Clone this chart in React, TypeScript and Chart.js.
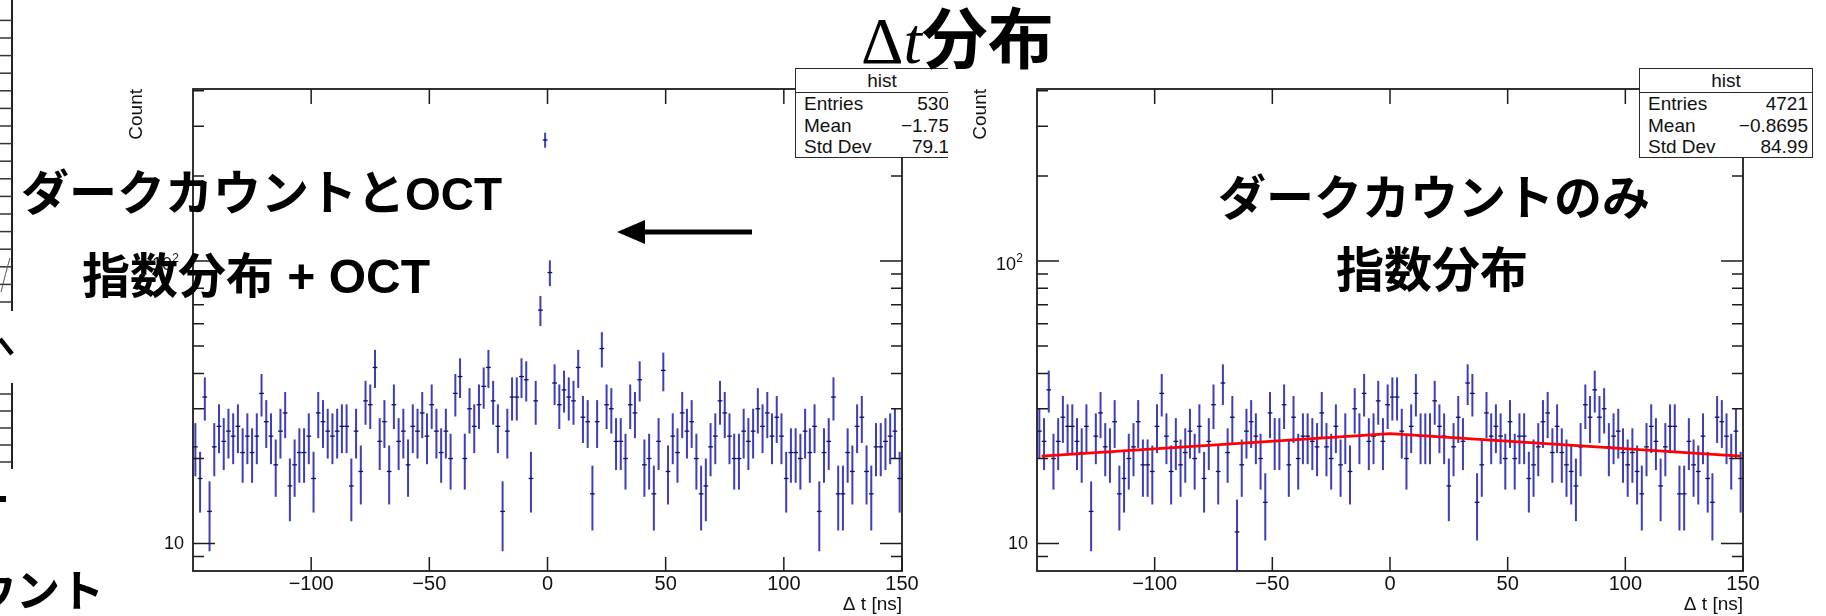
import React, { useEffect, useRef } from "react";
import { Chart, registerables } from "chart.js";

Chart.register(...registerables);

// ---------- data ----------
const binCenters = [
  -149, -147, -145, -143, -141, -139, -137, -135, -133, -131,
  -129, -127, -125, -123, -121, -119, -117, -115, -113, -111,
  -109, -107, -105, -103, -101, -99, -97, -95, -93, -91,
  -89, -87, -85, -83, -81, -79, -77, -75, -73, -71,
  -69, -67, -65, -63, -61, -59, -57, -55, -53, -51,
  -49, -47, -45, -43, -41, -39, -37, -35, -33, -31,
  -29, -27, -25, -23, -21, -19, -17, -15, -13, -11,
  -9, -7, -5, -3, -1, 1, 3, 5, 7, 9,
  11, 13, 15, 17, 19, 21, 23, 25, 27, 29,
  31, 33, 35, 37, 39, 41, 43, 45, 47, 49,
  51, 53, 55, 57, 59, 61, 63, 65, 67, 69,
  71, 73, 75, 77, 79, 81, 83, 85, 87, 89,
  91, 93, 95, 97, 99, 101, 103, 105, 107, 109,
  111, 113, 115, 117, 119, 121, 123, 125, 127, 129,
  131, 133, 135, 137, 139, 141, 143, 145, 147, 149,
];

const leftCounts = [
  22, 17, 33, 13, 22, 26, 23, 25, 24, 26,
  21, 24, 21, 24, 34, 27, 24, 19, 25, 29,
  16, 19, 21, 21, 24, 17, 29, 27, 25, 24,
  25, 26, 26, 16, 25, 18, 32, 31, 42, 23,
  27, 18, 31, 23, 25, 19, 26, 25, 29, 24,
  31, 25, 21, 25, 20, 34, 39, 20, 30, 26,
  31, 36, 42, 32, 26, 13, 25, 33, 33, 39,
  38, 17, 32, 67, 268, 91, 37, 31, 35, 33,
  32, 42, 28, 27, 15, 27, 49, 31, 30, 23,
  23, 20, 31, 29, 38, 19, 20, 15, 23, 41,
  18, 24, 21, 29, 25, 27, 20, 15, 16, 22,
  24, 32, 29, 24, 20, 20, 25, 23, 25, 30,
  26, 29, 24, 28, 24, 17, 21, 21, 20, 25,
  21, 26, 13, 21, 23, 33, 15, 15, 21, 18,
  26, 28, 18, 15, 22, 22, 23, 24, 25, 17,
];

const rightCounts = [
  25, 23, 35, 20, 23, 28, 26, 26, 23, 21,
  26, 13, 24, 29, 22, 21, 27, 15, 17, 20,
  22, 27, 19, 19, 18, 26, 34, 24, 18, 23,
  19, 21, 25, 20, 26, 17, 23, 31, 18, 37,
  21, 28, 11, 19, 25, 27, 24, 20, 14, 29,
  23, 23, 31, 19, 28, 20, 24, 24, 23, 22,
  29, 22, 20, 26, 19, 24, 18, 30, 24, 34,
  23, 24, 32, 23, 31, 33, 33, 25, 20, 26,
  34, 24, 24, 24, 32, 26, 24, 16, 22, 28,
  23, 37, 34, 14, 19, 29, 24, 26, 24, 20,
  27, 20, 24, 24, 17, 19, 22, 27, 29, 21,
  26, 21, 19, 18, 16, 22, 31, 28, 35, 28,
  30, 22, 24, 25, 21, 19, 21, 18, 15, 22,
  26, 23, 16, 22, 26, 26, 15, 15, 23, 19,
  18, 24, 17, 14, 28, 27, 24, 20, 25, 17,
];

// exponential fit drawn in the right panel (straight segments on a log axis)
const fitX = [-148, 0, 149];
const fitY = [20.4, 24.5, 20.4];

const xTickValues = [-100, -50, 0, 50, 100, 150];
const xTickLabels = ["\u2212100", "\u221250", "0", "50", "100", "150"];
const yMajorTicks = [10, 100];
const yMajorBase = ["10", "10"];
const yMajorExp = ["", "2"];
const yMinorTicks = [9, 20, 30, 40, 50, 60, 70, 80, 90, 200, 300, 400];

const statLabels = ["Entries", "Mean", "Std Dev"];
const leftStats = ["530", "\u22121.75", "79.1"];
const rightStats = ["4721", "\u22120.8695", "84.99"];

const AXIS_FONT = '"Liberation Sans", Arial, Helvetica, sans-serif';
const CJK_FONT = '"Noto Sans CJK JP", "Noto Sans", sans-serif';

// ---------- plugin: ROOT-like frame, ticks and error bars ----------
const rootAxesPlugin = {
  id: "rootAxes",
  beforeDatasetsDraw(chart: any) {
    const { ctx, chartArea: ca, scales } = chart;
    const xs = scales.x;
    const ys = scales.y;
    const pts = chart.data.datasets[0].data as { x: number; y: number }[];
    ctx.save();
    ctx.beginPath();
    ctx.rect(ca.left, ca.top, ca.right - ca.left, ca.bottom - ca.top);
    ctx.clip();
    for (const p of pts) {
      const err = Math.sqrt(p.y);
      const px = xs.getPixelForValue(p.x);
      const py = ys.getPixelForValue(p.y);
      const top = ys.getPixelForValue(p.y + err);
      const bot = p.y - err > 0 ? ys.getPixelForValue(p.y - err) : ca.bottom + 5;
      ctx.strokeStyle = "rgb(62,62,188)";
      ctx.lineWidth = 2;
      ctx.beginPath();
      ctx.moveTo(px, top);
      ctx.lineTo(px, bot);
      ctx.stroke();
      ctx.strokeStyle = "#12124e";
      ctx.lineWidth = 1.3;
      ctx.beginPath();
      ctx.moveTo(xs.getPixelForValue(p.x - 1), py);
      ctx.lineTo(xs.getPixelForValue(p.x + 1), py);
      ctx.stroke();
    }
    ctx.restore();
  },
  afterDraw(chart: any) {
    const { ctx, chartArea: ca, scales } = chart;
    const xs = scales.x;
    const ys = scales.y;
    ctx.save();
    ctx.strokeStyle = "#1c1c1c";
    ctx.lineWidth = 1.8;
    ctx.strokeRect(ca.left, ca.top, ca.right - ca.left, ca.bottom - ca.top);
    ctx.lineWidth = 1.5;
    ctx.beginPath();
    xTickValues.forEach((v) => {
      const px = xs.getPixelForValue(v);
      ctx.moveTo(px, ca.bottom);
      ctx.lineTo(px, ca.bottom - 14);
      ctx.moveTo(px, ca.top);
      ctx.lineTo(px, ca.top + 15);
    });
    yMajorTicks.forEach((v) => {
      const py = ys.getPixelForValue(v);
      ctx.moveTo(ca.left, py);
      ctx.lineTo(ca.left + 22, py);
      ctx.moveTo(ca.right, py);
      ctx.lineTo(ca.right - 22, py);
    });
    yMinorTicks.forEach((v) => {
      const py = ys.getPixelForValue(v);
      ctx.moveTo(ca.left, py);
      ctx.lineTo(ca.left + 11, py);
      ctx.moveTo(ca.right, py);
      ctx.lineTo(ca.right - 11, py);
    });
    ctx.stroke();

    ctx.fillStyle = "#111";
    ctx.font = `20px ${AXIS_FONT}`;
    ctx.textAlign = "center";
    ctx.textBaseline = "top";
    xTickValues.forEach((v, i) => {
      ctx.fillText(xTickLabels[i], xs.getPixelForValue(v), ca.bottom + 3);
    });

    ctx.textAlign = "right";
    ctx.textBaseline = "middle";
    yMajorTicks.forEach((v, i) => {
      const py = ys.getPixelForValue(v);
      if (yMajorExp[i]) {
        ctx.font = `12px ${AXIS_FONT}`;
        ctx.fillText(yMajorExp[i], ca.left - 14, py - 2);
        ctx.font = `18px ${AXIS_FONT}`;
        ctx.fillText(yMajorBase[i], ca.left - 21, py + 4);
      } else {
        ctx.font = `18px ${AXIS_FONT}`;
        ctx.fillText(yMajorBase[i], ca.left - 9, py);
      }
    });

    ctx.font = `19px ${AXIS_FONT}`;
    ctx.textAlign = "right";
    ctx.textBaseline = "alphabetic";
    ctx.fillText("\u0394 t [ns]", ca.right, 610);

    ctx.translate(ca.left - 56, ca.top);
    ctx.rotate(-Math.PI / 2);
    ctx.textAlign = "right";
    ctx.textBaseline = "middle";
    ctx.fillText("Count", 0, 0);
    ctx.restore();
  },
};

type HistProps = {
  counts: number[];
  withFit: boolean;
  left: number;
  width: number;
  pad: { left: number; right: number; top: number; bottom: number };
};

function HistChart({ counts, withFit, left, width, pad }: HistProps) {
  const ref = useRef<HTMLCanvasElement>(null);
  useEffect(() => {
    const pts = binCenters.map((c, i) => ({ x: c, y: counts[i] }));
    const datasets: any[] = [{ data: pts, pointRadius: 0, showLine: false }];
    if (withFit) {
      datasets.push({
        type: "line",
        data: fitX.map((x, i) => ({ x, y: fitY[i] })),
        borderColor: "#ff0000",
        borderWidth: 2.6,
        pointRadius: 0,
        showLine: true,
        fill: false,
        tension: 0,
      });
    }
    const chart = new Chart(ref.current as HTMLCanvasElement, {
      type: "scatter",
      data: { datasets },
      options: {
        responsive: false,
        maintainAspectRatio: false,
        animation: false,
        layout: { padding: pad },
        scales: {
          x: { type: "linear", min: -150, max: 150, display: false },
          y: { type: "logarithmic", min: 8, max: 406, display: false },
        },
        plugins: { legend: { display: false }, tooltip: { enabled: false } },
      } as any,
      plugins: [rootAxesPlugin],
    });
    return () => chart.destroy();
  }, []);
  return (
    <canvas
      ref={ref}
      width={width}
      height={616}
      style={{ position: "absolute", left, top: 0, width, height: 616 }}
    />
  );
}

function StatsBox({ left, clip, values, padRight }: { left: number; clip: number; values: string[]; padRight: number }) {
  return (
    <div style={{ position: "absolute", left, top: 68, width: clip, height: 92, overflow: "hidden" }}>
      <div
        style={{
          position: "absolute",
          left: 0,
          top: 0,
          width: 174,
          height: 90,
          boxSizing: "border-box",
          border: "1.5px solid #2a2a2a",
          background: "#fff",
          font: `19px ${AXIS_FONT}`,
          color: "#111",
        }}
      >
        <div style={{ height: 23, lineHeight: "23px", textAlign: "center", borderBottom: "1.5px solid #2a2a2a" }}>hist</div>
        {statLabels.map((l, i) => (
          <div
            key={l}
            style={{
              display: "flex",
              justifyContent: "space-between",
              height: 21.5,
              lineHeight: "21.5px",
              paddingLeft: 8,
              paddingRight: padRight,
              whiteSpace: "nowrap",
            }}
          >
            <span>{l}</span>
            <span>{values[i]}</span>
          </div>
        ))}
      </div>
    </div>
  );
}

function JText({ left, centerY, children }: { left: number; centerY: number; children: React.ReactNode }) {
  return (
    <div
      style={{
        position: "absolute",
        left,
        top: centerY - 27,
        fontFamily: CJK_FONT,
        fontWeight: 700,
        fontSize: 48,
        lineHeight: "48px",
        whiteSpace: "nowrap",
        color: "#000",
      }}
    >
      {children}
    </div>
  );
}

const latinBold: React.CSSProperties = { fontFamily: AXIS_FONT, fontWeight: 700, fontSize: 46 };
const latinBold2: React.CSSProperties = { fontFamily: AXIS_FONT, fontWeight: 700, fontSize: 48 };

export default function App() {
  const stripTicks = Array.from({ length: 17 }, (_, k) => 20.4 + 17.6 * k);
  const bracketTicks = [394, 411, 428, 445, 462];
  return (
    <div
      style={{
        position: "absolute",
        left: 0,
        top: 0,
        width: 1826,
        height: 616,
        overflow: "hidden",
        background: "#fff",
      }}
    >
      <HistChart counts={leftCounts} withFit={false} left={0} width={948} pad={{ left: 193, right: 46, top: 89, bottom: 45 }} />
      <HistChart counts={rightCounts} withFit={true} left={948} width={878} pad={{ left: 89, right: 83, top: 89, bottom: 45 }} />

      <StatsBox left={795} clip={153} values={leftStats} padRight={19} />
      <StatsBox left={1639} clip={176} values={rightStats} padRight={4} />

      {/* remnants of the neighbouring slide at the left edge */}
      <svg style={{ position: "absolute", left: 0, top: 0 }} width={120} height={616}>
        <line x1={12} y1={0} x2={12} y2={311} stroke="#222" strokeWidth={2} />
        {stripTicks.map((y) => (
          <line key={y} x1={0} x2={12} y1={y} y2={y} stroke="#333" strokeWidth={1.5} />
        ))}
        <path d="M1 292 C 4 280, 7 268, 10 258" stroke="#555" strokeWidth={1} fill="none" />
        <line x1={0} y1={339} x2={12} y2={354} stroke="#000" strokeWidth={4.5} />
        <line x1={12} y1={383} x2={12} y2={469} stroke="#222" strokeWidth={2} />
        {bracketTicks.map((y) => (
          <line key={y} x1={0} x2={12} y1={y} y2={y} stroke="#333" strokeWidth={1.5} />
        ))}
        <rect x={0} y={496} width={6} height={6} fill="#000" />
      </svg>
      <div
        style={{
          position: "absolute",
          left: -28,
          top: 566,
          fontFamily: CJK_FONT,
          fontWeight: 700,
          fontSize: 44,
          lineHeight: "44px",
          whiteSpace: "nowrap",
        }}
      >
        ウント
      </div>

      {/* title */}
      <div
        style={{
          position: "absolute",
          left: 861,
          top: 1,
          fontFamily: '"Liberation Serif", "DejaVu Serif", serif',
          fontSize: 66,
          lineHeight: "66px",
          whiteSpace: "nowrap",
          color: "#000",
        }}
      >
        <span>Δ</span>
        <span style={{ fontStyle: "italic" }}>t</span>
        <span style={{ fontFamily: CJK_FONT, fontWeight: 700 }}>分布</span>
      </div>

      {/* annotations */}
      <JText left={21} centerY={192}>
        ダークカウントと<span style={latinBold}>OCT</span>
      </JText>
      <JText left={82} centerY={275}>
        指数分布<span style={latinBold2}> + OCT</span>
      </JText>
      <JText left={1218} centerY={197}>
        ダークカウントのみ
      </JText>
      <JText left={1336} centerY={269}>
        指数分布
      </JText>

      <svg style={{ position: "absolute", left: 600, top: 210 }} width={170} height={50}>
        <line x1={42} y1={22} x2={152} y2={22} stroke="#000" strokeWidth={5} />
        <polygon points="17,22 45,10 45,34" fill="#000" />
      </svg>
    </div>
  );
}
